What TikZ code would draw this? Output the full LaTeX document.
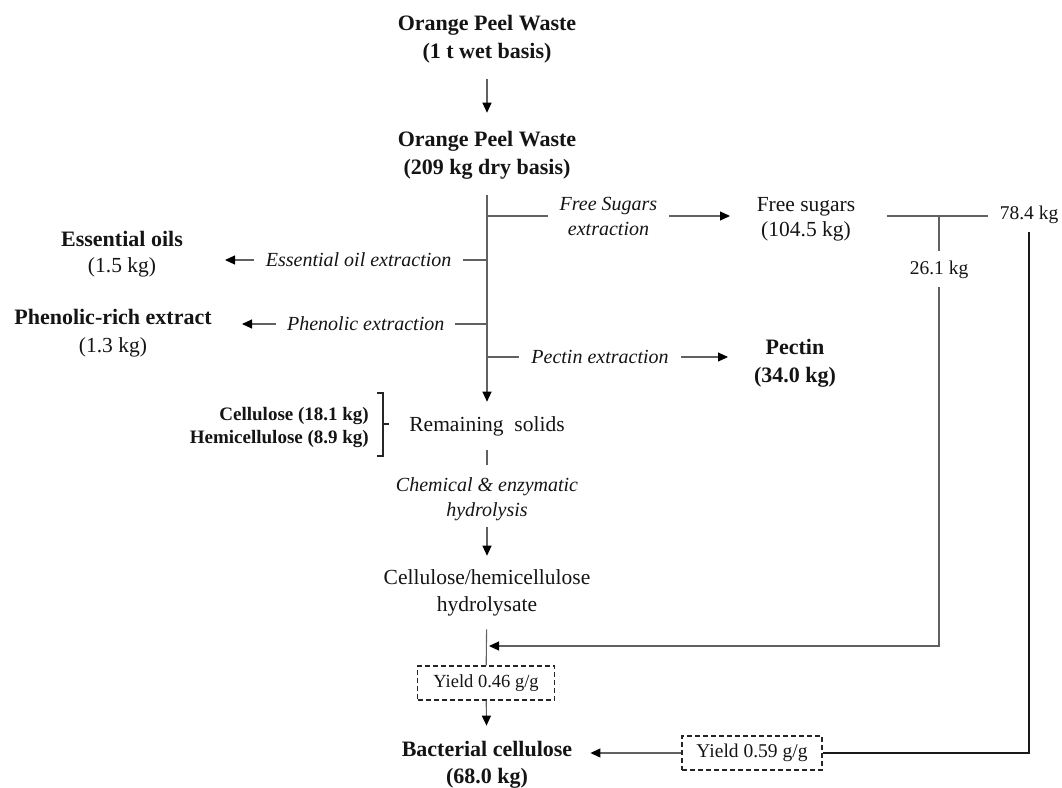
\documentclass[tikz,border=0pt]{standalone}
\usepackage{fontspec}
\setmainfont{Liberation Serif}
\usetikzlibrary{arrows.meta}
\begin{document}
\begin{tikzpicture}[x=1pt,y=-1pt,
 base/.style={inner sep=0pt, align=center, text=black!92},
 tb/.style={base, font=\fontsize{22}{28}\selectfont\bfseries},
 tn/.style={base, font=\fontsize{21.5}{26}\selectfont},
 tk/.style={base, font=\fontsize{19.5}{24}\selectfont},
 ti/.style={base, font=\fontsize{20}{25}\selectfont\itshape},
 tsb/.style={base, align=right, font=\fontsize{19}{23}\selectfont\bfseries},
 ybox/.style={draw=black!85, line width=1.3pt, dash pattern=on 5pt off 3pt, font=\fontsize{18.5}{20}\selectfont, inner sep=0pt, minimum height=34pt, text=black!92},
 ln/.style={draw=black!62, line width=1.1pt},
 arr/.style={ln, -{Triangle[length=10pt,width=9pt,color=black]}},
 gap/.style={fill=white, inner xsep=11.5pt, inner ysep=0pt}
]
\useasboundingbox (0,0) rectangle (1062,787);
% text nodes
\node[tb] (opw1) at (487,39) {Orange Peel Waste\\(1 t wet basis)};
\node[tb] (opw2) at (487,155) {Orange Peel Waste\\(209 kg dry basis)};
\node[tn] (eo) at (122,254) {{\fontsize{22}{26}\selectfont\bfseries Essential oils}\\(1.5 kg)};
\node[tn, font=\fontsize{21.5}{28}\selectfont] (ph) at (113,333) {{\fontsize{22}{28}\selectfont\bfseries Phenolic-rich extract}\\(1.3 kg)};
\node[tn, font=\fontsize{21.5}{25}\selectfont] (fs) at (806,219) {Free sugars\\(104.5 kg)};
\node[tb] (pe) at (795,363) {Pectin\\(34.0 kg)};
\node[tk] (k78) at (1029,215) {78.4 kg};
\node[tk] (k26) at (939,270) {26.1 kg};
\node[tn] (rs) at (487,426) {Remaining\ \ solids};
\node[tsb, anchor=east] (cl) at (369,427) {Cellulose (18.1 kg)\\Hemicellulose (8.9 kg)};
\node[ti] (ch) at (487,499) {Chemical \& enzymatic\\hydrolysis};
\node[tn, font=\fontsize{21.5}{27}\selectfont] (hy) at (487,593) {Cellulose/hemicellulose\\hydrolysate};
\node[ybox, minimum width=137pt] (y46) at (486,683) {Yield 0.46 g/g};
\node[ybox, minimum width=140pt, font=\fontsize{19.5}{21}\selectfont] (y59) at (752,753) {Yield 0.59 g/g};
\node[tb, font=\fontsize{22}{27}\selectfont\bfseries] (bc) at (487,765) {Bacterial cellulose\\(68.0 kg)};
% junctions and arrow ends
\coordinate (j1) at (487,216);
\coordinate (j2) at (487,260);
\coordinate (j3) at (487,324);
\coordinate (j4) at (487,357);
\coordinate (jh) at (489,646);
\coordinate (j26) at (939,216);
\coordinate (c26) at (939,646);
\coordinate (fsin) at (730,216);
\coordinate (eoin) at (225,260);
\coordinate (phin) at (242,324);
\coordinate (pein) at (728,357);
% connectors
\draw[arr, shorten <=15.5pt, shorten >=18pt] (opw1) -- (opw2);
\draw[arr, shorten <=16pt, shorten >=14.3pt] (opw2) -- (rs);
\draw[arr] (j1) -- node[ti, gap]{Free Sugars\\extraction} (fsin);
\draw[arr] (j2) -- node[ti, gap, pos=0.49]{Essential oil extraction} (eoin);
\draw[arr] (j3) -- node[ti, gap, pos=0.495, inner xsep=11pt]{Phenolic extraction} (phin);
\draw[arr] (j4) -- node[ti, gap, pos=0.469, inner xsep=12pt]{Pectin extraction} (pein);
\draw[ln, shorten <=32pt, shorten >=12pt] (fs.east |- j1) -- (k78.west |- j1);
\draw[ln, shorten >=10pt] (j26) -- (k26.north);
\draw[arr, shorten <=8pt] (k26.south) -- (c26) -- (jh);
\draw[draw=black!90, line width=1.6pt, shorten <=8pt] (k78.south) -- (k78.south |- y59) -- (y59.east);
\draw[ln, shorten <=14.3pt, shorten >=12.5pt] (rs) -- (ch);
\draw[arr, shorten <=6.5pt, shorten >=13.8pt] (ch) -- (hy);
\draw[ln, shorten <=12.8pt] (hy) -- (y46);
\draw[arr, shorten >=15.6pt] (y46) -- (bc);
\draw[arr, shorten >=18pt] (y59) -- (bc.east |- y59);
% bracket
\draw[draw=black!85, line width=1.3pt] (377,393) -- (383,393) -- (383,456) -- (377,456) (383,424) -- (389,424);
\end{tikzpicture}
\end{document}
